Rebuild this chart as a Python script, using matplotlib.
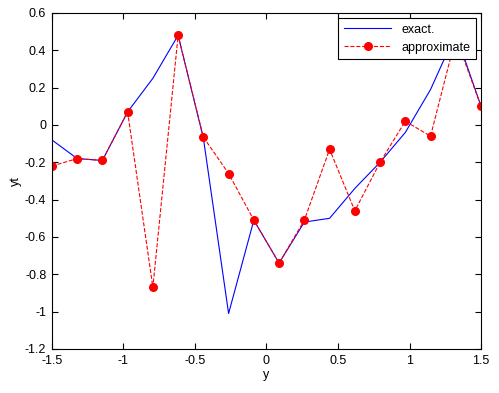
import numpy as np
import matplotlib.pyplot as plt

plt.rcParams['font.family'] = ['Liberation Sans', 'DejaVu Sans']

# 18 nodes on [-1.5, 1.5]
y = np.linspace(-1.5, 1.5, 18)
exact = [-0.08, -0.18, -0.19, 0.07, 0.25, 0.48, -0.07, -1.01, -0.51, -0.74,
         -0.52, -0.50, -0.34, -0.20, -0.04, 0.19, 0.49, 0.10]
approx = [-0.22, -0.18, -0.19, 0.07, -0.87, 0.48, -0.065, -0.26, -0.51, -0.74,
          -0.51, -0.13, -0.46, -0.20, 0.02, -0.06, 0.47, 0.10]

fig = plt.figure(figsize=(4.99, 3.93), dpi=100)
ax = fig.add_axes([0.104, 0.112, 0.86, 0.855])

ax.plot(y, exact, color='blue', lw=0.8, label='exact.')
ax.plot(y, approx, 'r--', lw=0.8, marker='o', markersize=5.5,
        markerfacecolor='red', markeredgecolor='red', label='approximate')

ax.set_xlim(-1.5, 1.5)
ax.set_ylim(-1.2, 0.6)
ax.set_xticks(np.arange(-1.5, 1.51, 0.5))
ax.set_xticklabels(['-1.5', '-1', '-0.5', '0', '0.5', '1', '1.5'])
ax.set_yticks(np.arange(-1.2, 0.61, 0.2))
ax.set_yticklabels(['-1.2', '-1', '-0.8', '-0.6', '-0.4', '-0.2', '0', '0.2', '0.4', '0.6'])
ax.tick_params(direction='in', top=True, right=True, labelsize=9, length=4, pad=4)
ax.set_xlabel('y', fontsize=9, labelpad=2)
ax.set_ylabel('yt', fontsize=9, labelpad=2)

leg = ax.legend(loc='upper right', fontsize=9, fancybox=False, framealpha=1,
                edgecolor='black', borderaxespad=0.4, handlelength=3.8,
                borderpad=0.45, labelspacing=0.5)
leg.get_frame().set_linewidth(0.8)

fig.savefig('out.png', dpi=100)
